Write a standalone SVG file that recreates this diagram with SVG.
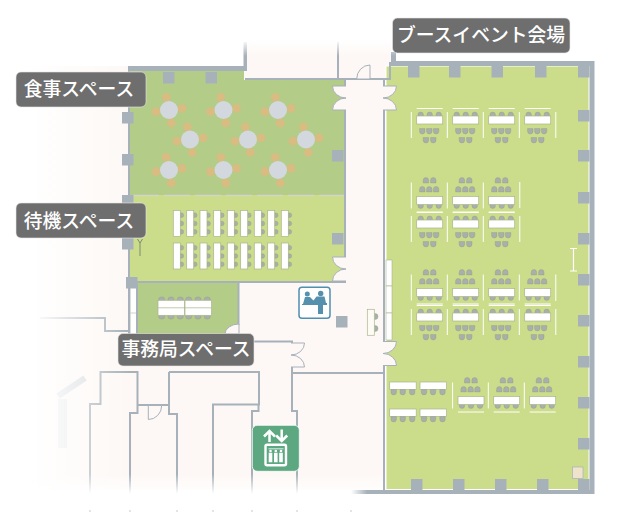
<svg xmlns="http://www.w3.org/2000/svg" width="619" height="512" viewBox="0 0 619 512">
<style>
.pink{fill:#fdf8f5}
.wall{fill:none;stroke:#a7b1b9;stroke-width:2}
.col{fill:#a7b1b9}
.door{fill:#fdf8f5;stroke:#a7b1b9;stroke-width:1}
.tb{fill:#fff;stroke:#a9b58e;stroke-width:.7}
.ch{fill:#a9afab;stroke:#8f9c86;stroke-width:.4}
.bar{fill:none;stroke:#fff;stroke-width:1}
.lab{fill:#6e6e6e;stroke:#e8e8e8;stroke-width:.6}
.lt{font-family:"Noto Sans CJK JP","Noto Sans",sans-serif;font-size:18.800px;font-weight:500;fill:#fff;text-anchor:middle}
</style>
<defs>
<linearGradient id="fl"><stop offset="0" stop-color="#fff"/><stop offset=".28" stop-color="#fff" stop-opacity=".95"/><stop offset="1" stop-color="#fff" stop-opacity="0"/></linearGradient>
<linearGradient id="fb" x1="0" y1="0" x2="0" y2="1"><stop offset="0" stop-color="#fff" stop-opacity="0"/><stop offset="1" stop-color="#fff"/></linearGradient>
<linearGradient id="ft" x1="0" y1="0" x2="0" y2="1"><stop offset="0" stop-color="#fff"/><stop offset="1" stop-color="#fff" stop-opacity="0"/></linearGradient>
<linearGradient id="fw"><stop offset="0" stop-color="#a7b1b9" stop-opacity="0"/><stop offset="1" stop-color="#a7b1b9"/></linearGradient>
<rect id="k" class="col" width="11.500" height="11.500"/>
<path id="c" class="ch" d="M-2.700 2.400V-.2A2.700 2.700 0 0 1 2.700-.2V2.400Z"/>
<path id="cd" class="ch" d="M-2.700-2.400V.2A2.700 2.700 0 0 0 2.700 .2V-2.400Z"/>
<g id="u">
  <path class="bar" d="M-5.400-8V18M0-11.500H26"/>
  <use href="#c" x="4" y="-5"/><use href="#c" x="13" y="-5"/><use href="#c" x="22" y="-5"/>
  <rect class="tb" y="-4" width="26" height="8"/>
  <use href="#cd" x="5.600" y="11"/><use href="#cd" x="12.600" y="11"/><use href="#cd" x="19.400" y="11"/>
  <use href="#cd" x="9.200" y="20"/><use href="#cd" x="16.600" y="20"/>
</g>
<g id="v">
  <rect class="tb" width="7" height="26"/>
  <path class="ch" d="M7.500 2.400h.6a2.300 2.300 0 0 1 0 4.600h-.6zM7.500 10.700h.6a2.300 2.300 0 0 1 0 4.600h-.6zM7.500 19h.6a2.300 2.300 0 0 1 0 4.600h-.6z"/>
</g>
<g id="t">
  <circle r="4.400" cx="-2.700" cy="-12.700"/><circle r="4.400" cx="13" cy="-1.700"/><circle r="4.400" cx="2.300" cy="13"/><circle r="4.400" cx="-13" cy="1.700"/>
  <circle r="9" fill="#d2d8de"/>
</g>
<g id="b"><rect class="tb" width="26.500" height="7.500"/><use href="#cd" x="4" y="10"/><use href="#cd" x="13" y="10"/><use href="#cd" x="22.500" y="10"/></g>
<path id="dr" class="door" d="M0 0H13.500A13.500 12 0 0 1 0 12A13.500 12 0 0 1 13.500 24H0"/>
</defs>

<rect width="619" height="512" fill="#fff"/>
<g id="background">
  <rect class="pink" x="0" y="66" width="384" height="424"/>
  <rect class="pink" x="245" y="40" width="146" height="40"/>
  <path d="M58 396L85 378" stroke="#d5dadd" stroke-width="6" fill="none"/>
  <rect x="58" y="399" width="9" height="49" fill="#e2e5e7"/>
</g>
<g id="lower-rooms">
  <path class="wall" d="M40 318H105V331H129"/>
  <path class="wall" d="M90 495V404H100.500V372H137.500V413H130V495M137.500 405H169M169 372V414H177V495M169 372H259V404.500H213V495M252 495V411H258.500V404.500"/>
  <path class="wall" d="M252 341.500H292V373H384M292 373V411H297V495"/>
  <path class="door" d="M148.300 405.500H161.700A13.400 14 0 0 1 148.300 419.500Z"/>
</g>
<g id="fades">
  <rect x="0" y="40" width="130" height="472" fill="url(#fl)"/>
  <rect x="0" y="474" width="384" height="20" fill="url(#fb)"/>
  <rect x="0" y="494" width="384" height="18" fill="#fff"/>
  <path d="M90 510V512M130 510V512M177 510V512M213 510V512M252 510V512M297 510V512M351 510V512" stroke="#e2e5e7" stroke-width="2"/>
</g>

<g id="food-room">
  <path fill="#b3cc87" d="M130 71H244V80H344V195H130Z"/>
  <g fill="#d8bc82">
    <use href="#t" x="169" y="110"/><use href="#t" x="223.500" y="110"/><use href="#t" x="278" y="110"/>
    <use href="#t" x="190" y="139.500"/><use href="#t" x="248" y="139.500"/><use href="#t" x="306" y="139.500"/>
    <use href="#t" x="169" y="170"/><use href="#t" x="223.500" y="170"/><use href="#t" x="278" y="170"/>
  </g>
</g>
<g id="waiting-room">
  <rect x="130" y="195" width="214" height="87" fill="#cbdc8a"/>
  <path d="M133 195.500H344" stroke="#d4d4cc" stroke-width="1.500" stroke-dasharray="26 5" fill="none"/>
  <use href="#v" x="173.300" y="210.500"/><use href="#v" x="186.700" y="210.500"/><use href="#v" x="200" y="210.500"/><use href="#v" x="213.700" y="210.500"/><use href="#v" x="227.300" y="210.500"/><use href="#v" x="240.700" y="210.500"/><use href="#v" x="254.300" y="210.500"/><use href="#v" x="267.700" y="210.500"/><use href="#v" x="281.300" y="210.500"/>
  <use href="#v" x="173.300" y="243"/><use href="#v" x="186.700" y="243"/><use href="#v" x="200" y="243"/><use href="#v" x="213.700" y="243"/><use href="#v" x="227.300" y="243"/><use href="#v" x="240.700" y="243"/><use href="#v" x="254.300" y="243"/><use href="#v" x="267.700" y="243"/><use href="#v" x="281.300" y="243"/>
  <path d="M137.500 239l2.500 4 2.500-4M140 243V256" stroke="#5c6a6a" stroke-width=".7" fill="none"/>
</g>
<g id="office-room">
  <rect x="137" y="283" width="101" height="52" fill="#b3cc87"/>
  <rect x="130.500" y="287" width="6.500" height="50" fill="#fff" stroke="#b8c0b8" stroke-width=".5"/>
  <path d="M130.500 313H137" stroke="#b8c0b8" stroke-width=".7"/>
  <g id="office-tables">
    <g class="ch">
      <rect x="158.700" y="297" width="6" height="5" rx="2.500"/><rect x="168" y="297" width="6" height="5" rx="2.500"/><rect x="177.300" y="297" width="6" height="5" rx="2.500"/><rect x="185.700" y="297" width="6" height="5" rx="2.500"/><rect x="195" y="297" width="6" height="5" rx="2.500"/><rect x="204.300" y="297" width="6" height="5" rx="2.500"/>
      <rect x="158.700" y="314" width="6" height="5" rx="2.500"/><rect x="168" y="314" width="6" height="5" rx="2.500"/><rect x="177.300" y="314" width="6" height="5" rx="2.500"/><rect x="185.700" y="314" width="6" height="5" rx="2.500"/><rect x="195" y="314" width="6" height="5" rx="2.500"/><rect x="204.300" y="314" width="6" height="5" rx="2.500"/>
    </g>
    <rect class="tb" x="158" y="300.300" width="26.500" height="15"/><rect class="tb" x="185" y="300.300" width="26.500" height="15"/>
    <path d="M158 307.800H211.500" stroke="#a9b58e" stroke-width=".7"/>
  </g>
</g>
<g id="hall">
  <rect x="386" y="66" width="203" height="423.500" fill="#cbdc8a" stroke="#fff" stroke-width="1"/>
  <g id="hall-strip" fill="#fff" stroke="#a9b58e" stroke-width=".6">
    <rect x="386" y="260" width="6" height="26"/><rect x="386" y="286" width="6" height="27"/><rect x="386" y="313" width="6" height="27"/>
  </g>
  <g id="row1"><use href="#u" transform="translate(416.700 120)"/><use href="#u" transform="translate(452.700 120)"/><use href="#u" transform="translate(488.700 120)"/><use href="#u" transform="translate(524.700 120)"/><path class="bar" d="M555.800 112V138"/></g>
  <g id="row2"><use href="#u" transform="translate(416.700 200.500) scale(1 -1)"/><use href="#u" transform="translate(452.700 200.500) scale(1 -1)"/><use href="#u" transform="translate(488.700 200.500) scale(1 -1)"/><path class="bar" d="M519.800 182V208"/></g>
  <g id="row3"><use href="#u" transform="translate(416.700 224)"/><use href="#u" transform="translate(452.700 224)"/><use href="#u" transform="translate(488.700 224)"/><path class="bar" d="M519.800 216V242"/></g>
  <g id="row4"><use href="#u" transform="translate(416.700 292.500) scale(1 -1)"/><use href="#u" transform="translate(452.700 292.500) scale(1 -1)"/><use href="#u" transform="translate(488.700 292.500) scale(1 -1)"/><use href="#u" transform="translate(524.700 292.500) scale(1 -1)"/><path class="bar" d="M555.800 274.500V301"/></g>
  <g id="row5"><use href="#u" transform="translate(416.700 317)"/><use href="#u" transform="translate(452.700 317)"/><use href="#u" transform="translate(488.700 317)"/><use href="#u" transform="translate(524.700 317)"/><path class="bar" d="M555.800 309V335"/></g>
  <g id="row6"><use href="#u" transform="translate(458 400.500) scale(1 -1)"/><use href="#u" transform="translate(493.700 400.500) scale(1 -1)"/><use href="#u" transform="translate(529.700 400.500) scale(1 -1)"/></g>
  <g id="tables-left"><use href="#b" x="389.700" y="382"/><use href="#b" x="420" y="382"/><use href="#b" x="389.700" y="409"/><use href="#b" x="420" y="409"/></g>
  <path id="pole" d="M570 248.500H577M573.500 248.500V271M570 271H577" stroke="#fff" stroke-width="1.200" fill="none"/>
  <rect id="hall-door" x="572.500" y="467" width="10.500" height="11.500" fill="#efe3cc" stroke="#a7b1b9" stroke-width=".7"/>
</g>
<g id="walls">
  <path class="wall" d="M338 42V79H390V62M245 79H338M345 79V282M384 79V490M129 71V337M137 284V337M129 282H346M238.500 283V325"/>
  <path fill="#a7b1b9" d="M128 66H243.500V42H247V71H128Z"/>
  <path fill="#a7b1b9" d="M391 52H396V61H594.500V494H367V490H589.500V66H391Z"/>
  <rect x="351" y="490" width="16" height="4" fill="url(#fw)"/>
</g>
<rect x="240" y="40" width="158" height="16" fill="url(#ft)"/>
<g id="doors">
  <use href="#dr" transform="translate(383 86)"/>
  <use href="#dr" transform="translate(346 86) scale(-1 1)"/>
  <use href="#dr" transform="translate(346 257) scale(-1 1)"/>
  <use href="#dr" transform="translate(383 341.500)"/>
  <use href="#dr" transform="translate(291 343)"/>
  <path class="door" d="M370 65V79H356.700A13.300 14 0 0 1 370 65Z"/>
  <path class="door" d="M239 324V334H225A14 10 0 0 1 239 324Z"/>
</g>
<g id="columns">
  <use href="#k" x="408" y="66"/><use href="#k" x="449" y="66"/><use href="#k" x="491.500" y="66"/><use href="#k" x="535" y="66"/><use href="#k" x="578" y="66"/>
  <use href="#k" x="578" y="110"/><use href="#k" x="578" y="150"/><use href="#k" x="578" y="192"/><use href="#k" x="578" y="233"/><use href="#k" x="578" y="274"/><use href="#k" x="578" y="315"/><use href="#k" x="578" y="356"/><use href="#k" x="578" y="397"/><use href="#k" x="578" y="438"/><use href="#k" x="578" y="479"/>
  <use href="#k" x="411" y="479"/><use href="#k" x="453" y="479"/><use href="#k" x="495" y="479"/><use href="#k" x="537" y="479"/>
  <use href="#k" x="163" y="72"/><use href="#k" x="205.500" y="72"/>
  <use href="#k" x="122" y="112"/><use href="#k" x="122" y="154"/><use href="#k" x="122" y="195"/><use href="#k" x="122" y="238"/>
  <use href="#k" x="332" y="150"/><use href="#k" x="332" y="233"/>
  <use href="#k" x="126" y="277"/><use href="#k" x="336" y="316"/>
</g>
<g id="reception">
  <path class="ch" d="M374.500 313.500h.5a3 3 0 0 1 0 6h-.5zM374.500 325.500h.5a3 3 0 0 1 0 6h-.5z"/>
  <rect x="367.300" y="309.300" width="7" height="26" fill="#fdfcf4" stroke="#a9b58e" stroke-width=".7"/>
</g>
<g id="info-icon">
  <rect x="299" y="287.300" width="31" height="31" rx="3" fill="#fff" stroke="#4f8fb0" stroke-width="1.500"/>
  <g fill="#5590ad">
    <circle cx="307.300" cy="294" r="2.500"/><circle cx="320.700" cy="293.500" r="2.700"/>
    <path d="M303 304L305 297H310L313.500 300.500L316.500 296.500H324.500L326 303H327V305H302V304ZM318 305H323V314H318Z"/>
  </g>
</g>
<g id="elevator-icon">
  <rect x="252.300" y="425.300" width="47" height="46" rx="5" fill="#5da880" stroke="#fff" stroke-width=".8"/>
  <path d="M269.500 442V431.500M264 436.500L269.500 431L275 436.500M281.700 429.500V441M276.200 435.500L281.700 441L287.200 435.500" fill="none" stroke="#fff" stroke-width="2.500"/>
  <rect x="265.500" y="444.800" width="20.500" height="20.500" rx="1.500" fill="#5da880" stroke="#fff" stroke-width="2.400"/>
  <path d="M268.500 448.800H283.500" stroke="#fff" stroke-width=".8"/>
  <g fill="#fff">
    <circle cx="270.500" cy="451" r="1.300"/><circle cx="275.800" cy="451" r="1.300"/><circle cx="281" cy="451" r="1.300"/>
    <path d="M268.700 452.800h3.600v9.500h-3.600zM274 452.800h3.600v9.500h-3.600zM279.200 452.800h3.600v9.500h-3.600z"/>
  </g>
</g>
<g id="label-food"><rect class="lab" x="16" y="72" width="130" height="35" rx="5"/><text class="lt" x="79" y="96">食事スペース</text></g>
<g id="label-waiting"><rect class="lab" x="16" y="203" width="130" height="35" rx="5"/><text class="lt" x="79" y="227.500">待機スペース</text></g>
<g id="label-booth"><rect class="lab" x="392.500" y="18" width="177.500" height="35" rx="5"/><text class="lt" x="481" y="41.500">ブースイベント会場</text></g>
<g id="label-office"><rect class="lab" x="118" y="333.500" width="136" height="32.500" rx="5"/><text class="lt" x="186" y="356">事務局スペース</text></g>
</svg>
